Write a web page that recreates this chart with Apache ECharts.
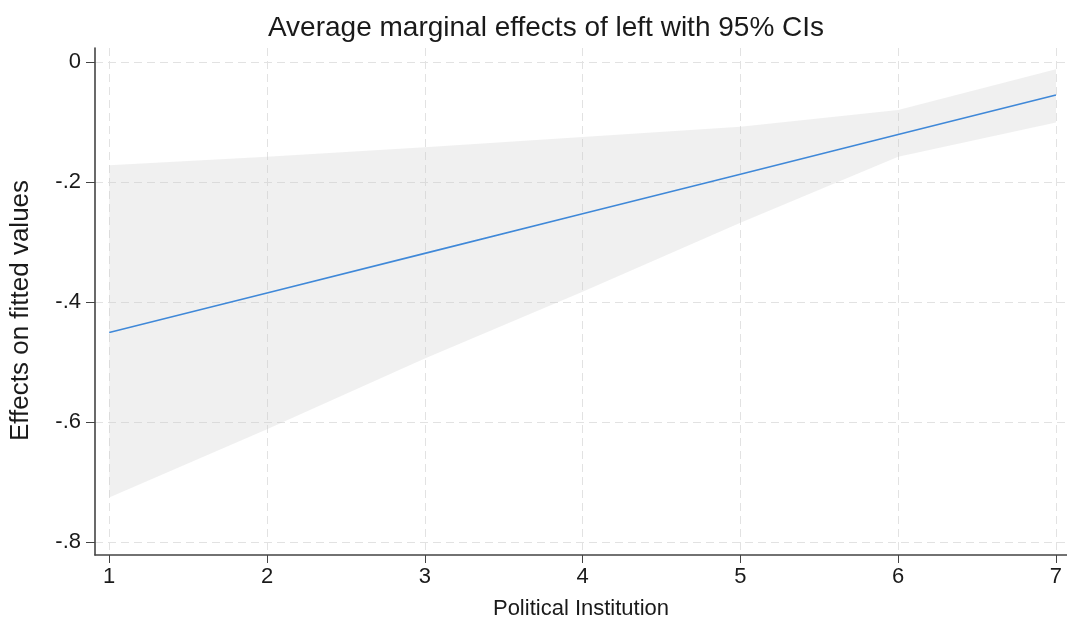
<!DOCTYPE html>
<html>
<head>
<meta charset="utf-8">
<script src="https://cdn.jsdelivr.net/npm/echarts@6/dist/echarts.min.js"></script>
<style>
html,body{margin:0;padding:0;background:#fff;}
#chart{width:1067px;height:626px;}
</style>
</head>
<body>
<div id="chart"></div>
<script>
var xValues = [1, 2, 3, 4, 5, 6, 7];
var effect = [-0.451, -0.385, -0.319, -0.253, -0.187, -0.121, -0.055];
var upperCI = [-0.172, -0.158, -0.142, -0.125, -0.108, -0.080, -0.012];
var lowerCI = [-0.726, -0.612, -0.494, -0.383, -0.268, -0.158, -0.101];
var yTicks = [-0.8, -0.6, -0.4, -0.2, 0];
var xTicks = [1, 2, 3, 4, 5, 6, 7];

function fmtY(v) {
  var r = Math.round(v * 10) / 10;
  if (r === 0) return '0';
  return String(r).replace('0.', '.');
}

var bandData = xValues.map(function (x, i) { return [x, lowerCI[i], upperCI[i]]; });
var effectData = xValues.map(function (x, i) { return [x, effect[i]]; });

var chart = echarts.init(document.getElementById('chart'));
var font = '"Liberation Sans", Arial, sans-serif';
chart.setOption({
  animation: false,
  backgroundColor: '#ffffff',
  title: {
    text: 'Average marginal effects of left with 95% CIs',
    left: 541,
    textAlign: 'center',
    top: 9,
    textStyle: { fontFamily: font, fontSize: 28, fontWeight: 'normal', color: '#1a1a1a' }
  },
  grid: { left: 95, right: 0, top: 48, bottom: 71, containLabel: false },
  xAxis: {
    type: 'value',
    min: 0.91,
    max: 7.07,
    name: 'Political Institution',
    nameLocation: 'middle',
    nameGap: 43,
    nameTextStyle: { fontFamily: font, fontSize: 22, color: '#1a1a1a' },
    axisLine: { show: true, onZero: false, lineStyle: { color: '#444', width: 1.6 } },
    axisTick: { show: true, length: 8, customValues: xTicks, lineStyle: { color: '#444' } },
    axisLabel: { customValues: xTicks, fontFamily: font, fontSize: 22, color: '#1a1a1a', margin: 11 },
    splitLine: { show: true, lineStyle: { color: '#e2e2e2', type: [8, 5], width: 1 } }
  },
  yAxis: {
    type: 'value',
    min: -0.8217,
    max: 0.0233,
    name: 'Effects on fitted values',
    nameLocation: 'middle',
    nameGap: 61,
    nameRotate: 90,
    nameTextStyle: { fontFamily: font, fontSize: 26, color: '#1a1a1a', padding: [0, 18, 0, 0] },
    axisLine: { show: true, onZero: false, lineStyle: { color: '#444', width: 1.6 } },
    axisTick: { show: true, length: 9, customValues: yTicks, lineStyle: { color: '#444' } },
    axisLabel: { customValues: yTicks, fontFamily: font, fontSize: 22, color: '#1a1a1a', margin: 14,
      formatter: fmtY },
    splitLine: { show: true, lineStyle: { color: '#e2e2e2', type: [8, 5], width: 1 } }
  },
  series: [
    {
      name: 'ci',
      type: 'custom',
      data: bandData,
      encode: { x: 0, y: [1, 2] },
      silent: true,
      z: 1,
      renderItem: function (params, api) {
        if (params.dataIndex !== 0) return null;
        var pts = [];
        for (var i = 0; i < xValues.length; i++) pts.push(api.coord([xValues[i], upperCI[i]]));
        for (var j = xValues.length - 1; j >= 0; j--) pts.push(api.coord([xValues[j], lowerCI[j]]));
        return {
          type: 'polygon',
          shape: { points: pts },
          style: { fill: 'rgba(200,200,200,0.27)', stroke: 'none' }
        };
      }
    },
    {
      name: 'effect',
      type: 'line',
      data: effectData,
      symbol: 'none',
      lineStyle: { color: '#3f88d8', width: 1.6 },
      z: 3
    }
  ]
});
</script>
</body>
</html>
